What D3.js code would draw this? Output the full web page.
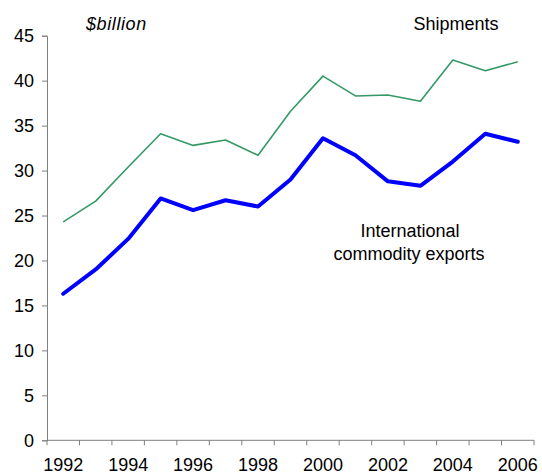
<!DOCTYPE html>
<html><head><meta charset="utf-8">
<script src="https://cdn.jsdelivr.net/npm/d3@7"></script>
<style>body{margin:0;background:#fff;} svg{display:block;font-family:"Liberation Sans",Arial,sans-serif;}</style>
</head><body>
<svg id="c" width="542" height="474"></svg>
<script>
const years = [1992,1993,1994,1995,1996,1997,1998,1999,2000,2001,2002,2003,2004,2005,2006];
const shipments = [24.3,26.6,30.4,34.1,32.8,33.4,31.7,36.6,40.5,38.3,38.4,37.7,42.3,41.1,42.1];
const exportsIntl = [16.3,19.0,22.4,26.9,25.6,26.7,26.0,29.0,33.6,31.7,28.8,28.3,31.0,34.1,33.2];
const yTicks = [0,5,10,15,20,25,30,35,40,45];
const xLabels = [1992,1994,1996,1998,2000,2002,2004,2006];

const svg = d3.select("#c");
const x = d3.scaleBand().domain(years).range([47,534]);
const y = d3.scaleLinear().domain([0,45]).range([440.3,35.7]);
const axisCol = "#7f7f7f";

// y axis
const ya = svg.append("g").attr("transform","translate(47,0)")
  .call(d3.axisLeft(y).tickValues(yTicks).tickSize(5).tickPadding(8));
ya.selectAll("path,line").attr("stroke",axisCol);
ya.selectAll("text").attr("font-size",18).attr("fill","#000").attr("font-family","Liberation Sans, Arial, sans-serif");

// x axis: ticks between categories
const xa = svg.append("g").attr("transform","translate(0,440.3)");
xa.append("line").attr("x1",47).attr("x2",534).attr("stroke",axisCol);
const bounds = years.map(d=>x(d)).concat([x(years[years.length-1])+x.bandwidth()]);
xa.selectAll("line.t").data(bounds).join("line").attr("class","t")
  .attr("x1",d=>d).attr("x2",d=>d).attr("y1",0).attr("y2",5).attr("stroke",axisCol);
xa.selectAll("text").data(xLabels).join("text")
  .attr("x",d=>x(d)+x.bandwidth()/2).attr("y",31).attr("text-anchor","middle")
  .attr("font-size",18).attr("fill","#000").text(d=>d);

const line = d3.line().x((d,i)=>x(years[i])+x.bandwidth()/2).y(d=>y(d));
svg.append("path").datum(shipments).attr("d",line).attr("fill","none")
  .attr("stroke","#339966").attr("stroke-width",1.6).attr("stroke-linejoin","round");
svg.append("path").datum(exportsIntl).attr("d",line).attr("fill","none")
  .attr("stroke","#0000ff").attr("stroke-width",4).attr("stroke-linejoin","round").attr("stroke-linecap","round");

svg.append("text").attr("x",86).attr("y",30).attr("font-size",18).attr("font-style","italic")
  .attr("letter-spacing",0.6).text("$billion");
svg.append("text").attr("x",456).attr("y",29.5).attr("font-size",18).attr("text-anchor","middle").text("Shipments");
svg.append("text").attr("x",410).attr("y",237).attr("font-size",18).attr("text-anchor","middle").text("International");
svg.append("text").attr("x",409).attr("y",260).attr("font-size",18).attr("text-anchor","middle").text("commodity exports");
</script>
</body></html>
